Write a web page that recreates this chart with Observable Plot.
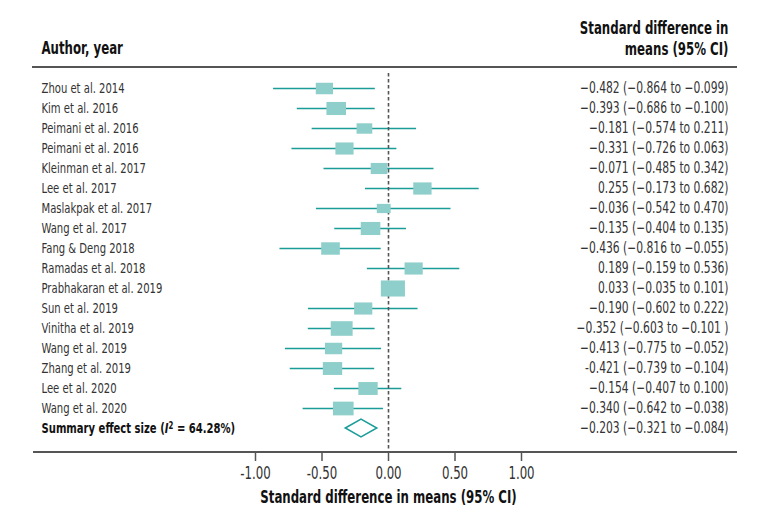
<!DOCTYPE html>
<html>
<head>
<meta charset="utf-8">
<script src="https://cdn.jsdelivr.net/npm/d3@7"></script>
<script src="https://cdn.jsdelivr.net/npm/@observablehq/plot@0.6"></script>
<style>
  body { margin: 0; background: #fff; }
  #chart svg { display: block; }
</style>
</head>
<body>
<div id="chart"></div>
<script>
// ---- data ----
const studies = [
  "Zhou et al. 2014", "Kim et al. 2016", "Peimani et al. 2016", "Peimani et al. 2016",
  "Kleinman et al. 2017", "Lee et al. 2017", "Maslakpak et al. 2017", "Wang et al. 2017",
  "Fang & Deng 2018", "Ramadas et al. 2018", "Prabhakaran et al. 2019", "Sun et al. 2019",
  "Vinitha et al. 2019", "Wang et al. 2019", "Zhang et al. 2019", "Lee et al. 2020", "Wang et al. 2020"
];
const estimates = [-0.482, -0.393, -0.181, -0.331, -0.071, 0.255, -0.036, -0.135, -0.436, 0.189, 0.033, -0.190, -0.352, -0.413, -0.421, -0.154, -0.340];
const lower     = [-0.864, -0.686, -0.574, -0.726, -0.485, -0.173, -0.542, -0.404, -0.816, -0.159, -0.035, -0.602, -0.603, -0.775, -0.739, -0.407, -0.642];
const upper     = [-0.099, -0.100, 0.211, 0.063, 0.342, 0.682, 0.470, 0.135, -0.055, 0.536, 0.101, 0.222, -0.101, -0.052, -0.104, 0.100, -0.038];
// relative study weights (%)
const weights   = [4.95, 6.4, 4.1, 5.5, 4.65, 5.6, 3.2, 6.4, 5.8, 5.5, 9.7, 5.5, 8.0, 4.95, 6.25, 6.25, 7.1];
const ciLabels = [
  "\u22120.482 (\u22120.864 to \u22120.099)",
  "\u22120.393 (\u22120.686 to \u22120.100)",
  "\u22120.181 (\u22120.574 to 0.211)",
  "\u22120.331 (\u22120.726 to 0.063)",
  "\u22120.071 (\u22120.485 to 0.342)",
  "0.255 (\u22120.173 to 0.682)",
  "\u22120.036 (\u22120.542 to 0.470)",
  "\u22120.135 (\u22120.404 to 0.135)",
  "\u22120.436 (\u22120.816 to \u22120.055)",
  "0.189 (\u22120.159 to 0.536)",
  "0.033 (\u22120.035 to 0.101)",
  "\u22120.190 (\u22120.602 to 0.222)",
  "\u22120.352 (\u22120.603 to \u22120.101 )",
  "\u22120.413 (\u22120.775 to \u22120.052)",
  "-0.421 (\u22120.739 to \u22120.104)",
  "\u22120.154 (\u22120.407 to 0.100)",
  "\u22120.340 (\u22120.642 to \u22120.038)"
];
const summaryLabel = "Summary effect size (I\u00b2 = 64.28%)";
const summaryEst = -0.203, summaryLo = -0.321, summaryHi = -0.084;
const summaryCI = "\u22120.203 (\u22120.321 to \u22120.084)";
const xDomain = [-1, 1];
const xTicks = [-1, -0.5, 0, 0.5, 1];
const leftHeader = "Author, year";
const rightHeader = "Standard difference in\nmeans (95% CI)";
const axisTitle = "Standard difference in means (95% CI)";

// ---- build ----
const rows = studies.map((label, i) => ({
  i, label, est: estimates[i], lo: lower[i], hi: upper[i], w: weights[i], ci: ciLabels[i]
}));
const summaryRow = { i: studies.length, label: summaryLabel, ci: summaryCI, est: summaryEst, lo: summaryLo, hi: summaryHi };

const TEAL = "#1a9c99";
const BOX = "#8fcfcb";
const GREY = "#555";
const FONT = "'DejaVu Sans Condensed', 'DejaVu Sans', sans-serif";
// horizontal squeeze per text group, to mimic a condensed face
const SQUEEZE = { "study-labels": 0.745, "ci-labels": 0.735, "summary-ci": 0.735, default: 0.77 };

const ASPECT = 1.5;
const rectSymbol = {
  draw(ctx, size) {
    const w = Math.sqrt(size * ASPECT), h = Math.sqrt(size / ASPECT);
    ctx.rect(-w / 2, -h / 2, w, h);
  }
};

const W = 771, H = 523;
const mTop = 67, mBottom = 71;

const decor = (index, scales, values, dims) => {
  const g = d3.create("svg:g");
  const yTop = dims.marginTop, yBot = dims.height - dims.marginBottom;
  g.append("line").attr("x1", 32).attr("x2", 737).attr("y1", yTop).attr("y2", yTop)
    .attr("stroke", GREY).attr("stroke-width", 2);
  g.append("line").attr("x1", 33).attr("x2", 737).attr("y1", yBot).attr("y2", yBot)
    .attr("stroke", GREY).attr("stroke-width", 2);
  return g.node();
};

const diamond = (index, scales) => {
  const x = scales.x, y = scales.y;
  const cy = y(summaryRow.i), h = 9;
  return d3.create("svg:path")
    .attr("d", `M${x(summaryRow.lo)},${cy}L${x(summaryRow.est)},${cy - h}L${x(summaryRow.hi)},${cy}L${x(summaryRow.est)},${cy + h}Z`)
    .attr("fill", "#fff").attr("stroke", TEAL).attr("stroke-width", 1.5)
    .node();
};

const plot = Plot.plot({
  width: W,
  height: H,
  marginTop: mTop,
  marginBottom: mBottom,
  marginLeft: 0,
  marginRight: 0,
  style: { fontFamily: FONT, fontSize: "14px", color: "#333", background: "#fff" },
  x: {
    domain: xDomain,
    range: [255, 521],
    ticks: xTicks,
    tickFormat: d => d.toFixed(2),
    tickSize: 9,
    tickPadding: 5,
    label: null
  },
  y: {
    type: "point",
    domain: d3.range(studies.length + 1),
    range: [84, 432],
    padding: 0,
    axis: null
  },
  r: { type: "sqrt", domain: [0, 10], range: [0, Math.sqrt(10 * 40 / Math.PI)] },
  marks: [
    decor,
    Plot.ruleY(rows, { y: "i", x1: "lo", x2: "hi", stroke: TEAL, strokeWidth: 1.6 }),
    Plot.ruleX([0], { stroke: GREY, strokeWidth: 1.6, strokeDasharray: "3.5,2.5", insetTop: 6 }),
    Plot.dot(rows, { x: "est", y: "i", r: "w", symbol: rectSymbol, fill: BOX, stroke: "none" }),
    diamond,
    Plot.text(rows, { y: "i", text: "label", frameAnchor: "left", dx: 41, textAnchor: "start", fontSize: 14.5, fill: "#333", ariaLabel: "study-labels" }),
    Plot.text([summaryRow], { y: "i", text: "label", frameAnchor: "left", dx: 41, textAnchor: "start", fontSize: 14.5, fontWeight: "bold", fill: "#111", ariaLabel: "summary-label" }),
    Plot.text(rows, { y: "i", text: "ci", frameAnchor: "right", dx: -43, textAnchor: "end", fontSize: 15.5, fill: "#333", ariaLabel: "ci-labels" }),
    Plot.text([summaryRow], { y: "i", text: "ci", frameAnchor: "right", dx: -43, textAnchor: "end", fontSize: 15.5, fill: "#333", ariaLabel: "summary-ci" }),
    Plot.text([leftHeader], { frameAnchor: "top-left", dx: 41, dy: -19, textAnchor: "start", lineAnchor: "middle", fontSize: 17, fontWeight: "bold", fill: "#111", ariaLabel: "left-header" }),
    Plot.text([rightHeader], { frameAnchor: "top-right", dx: -43, dy: -29.5, textAnchor: "end", lineAnchor: "middle", lineHeight: 1.2, fontSize: 17, fontWeight: "bold", fill: "#111", ariaLabel: "right-header" }),
    Plot.text([axisTitle], { x: d3.mean(xDomain), frameAnchor: "bottom", dy: 45, lineAnchor: "middle", fontSize: 17, fontWeight: "bold", fill: "#111", ariaLabel: "axis-title" })
  ]
});

// italic I with superscript 2 in the summary label
plot.querySelectorAll("text").forEach(t => {
  if (t.textContent === summaryLabel) {
    const [pre, post] = summaryLabel.split("I\u00b2");
    const sel = d3.select(t);
    t.textContent = "";
    sel.append("tspan").text(pre);
    sel.append("tspan").attr("font-style", "italic").text("I");
    sel.append("tspan").attr("dy", "-0.45em").attr("font-size", "0.7em").text("2");
    sel.append("tspan").attr("dy", "0.315em").text(post);
  }
});
// larger tick labels
plot.querySelectorAll("g[aria-label^='x-axis'] text").forEach(t => {
  t.style.fontSize = "17px";
  t.setAttribute("fill", "#333");
});
// condensed look: squeeze every text horizontally about its anchor
plot.querySelectorAll("text").forEach(t => {
  const g = t.closest("g[aria-label]");
  const key = g ? g.getAttribute("aria-label") : "default";
  const s = SQUEEZE[key] ?? SQUEEZE.default;
  const tr = t.getAttribute("transform") || "";
  t.setAttribute("transform", (tr + ` scale(${s},1)`).trim());
});
// axis tick styling
plot.querySelectorAll("[aria-label='x-axis tick'] path, [aria-label='x-axis'] line").forEach(p => {
  p.setAttribute("stroke", GREY);
  p.setAttribute("stroke-width", "1.5");
});

document.getElementById("chart").append(plot);
</script>
</body>
</html>
